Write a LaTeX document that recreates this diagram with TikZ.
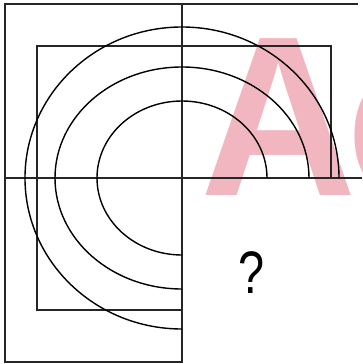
\documentclass[tikz,border=0pt]{standalone}
\usepackage{graphicx}
\usepackage{fontspec}
\setmainfont{Liberation Sans}
\definecolor{markpink}{RGB}{242,182,192}

\begin{document}
\begin{tikzpicture}[x=1pt, y=-1pt, line width=1.4pt,
    frame/.style = {draw, black!85},
    ring/.style = {draw, black},
    watermark/.style = {anchor=base west, inner sep=0pt, text=markpink,
                   font=\bfseries\fontsize{228}{228}\selectfont}]
    \useasboundingbox (0,0) rectangle (362,364);

    % watermark
    \node[watermark] (markA) at (200,195) {\scalebox{0.95}[1]{A}};
    \node[watermark] (markc) at (346,195) {\scalebox{0.95}[1]{c}};

    \coordinate (O) at (182,178);
    \coordinate (TL) at (5,4);
    \coordinate (TR) at (358,4);
    \coordinate (BL) at (5,362);
    \coordinate (BM) at (182,362);
    \coordinate (TM) at (182,4);
    \coordinate (ML) at (5,178);
    \coordinate (MR) at (362,178);

    % outer frame and cross
    \path[frame] (TR) -- (TL) -- (BL) -- (BM) -- (TM);
    \path[frame] (ML) -- (MR);

    % square, three quarters
    \path[frame] (182,310) -- (37,310) -- (37,46) -- (331,46) -- (331,178);

    % rings, three quarters
    \foreach \rx/\ry in {157/151, 127/111, 85/77}
        \path[ring] ([xshift=\rx pt]O) arc[start angle=0, end angle=-270, x radius=\rx, y radius=\ry];

    \node[font=\fontsize{60}{60}\selectfont, xscale=0.78] (q) at (252,273) {?};
\end{tikzpicture}
\end{document}
